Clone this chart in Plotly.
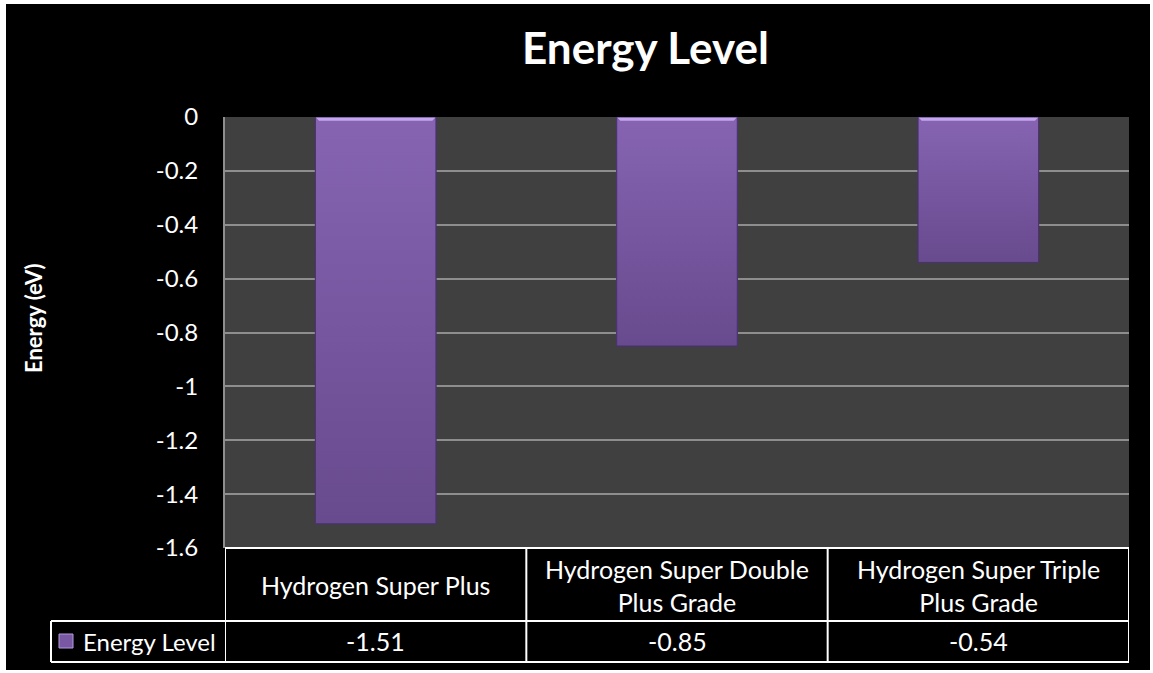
import textwrap
import plotly.graph_objects as go

# Chart data
categories = ["Hydrogen Super Plus", "Hydrogen Super Double Plus Grade", "Hydrogen Super Triple Plus Grade"]
energy_ev = [-1.51, -0.85, -0.54]
series_name = "Energy Level"
y_ticks = [0, -0.2, -0.4, -0.6, -0.8, -1, -1.2, -1.4, -1.6]

# Page geometry (pixels)
W, H = 1153, 673
L, R, T, B = 225, 1129, 117, 548
PW, PH = R - L, B - T

FONT = "Lato"
WHITE = "#ffffff"
BAR_WIDTH = 0.4
BAR_TOP = "#8664b2"
BAR_BOTTOM = "#684a8e"
HIGHLIGHT = "#c4a4ee"
BEVEL = 0.014  # depth of the bevelled top edge, in axis units


def px(x):
    return (x - L) / PW


def py(y):
    return (B - y) / PH


positions = list(range(len(categories)))

fig = go.Figure()
fig.add_trace(go.Bar(
    x=positions,
    y=energy_ev,
    width=BAR_WIDTH,
    name=series_name,
    marker=dict(color="#7758a0", line=dict(color="#4a3270", width=1)),
    showlegend=False,
))

# vertical shading and bevelled top edge of each bar
for pos, val in zip(positions, energy_ev):
    x0, x1 = pos - BAR_WIDTH / 2, pos + BAR_WIDTH / 2
    fig.add_trace(go.Scatter(
        x=[x0, x1, x1, x0, x0], y=[0, 0, val, val, 0],
        mode="lines", line=dict(width=0), fill="toself",
        fillgradient=dict(type="vertical", colorscale=[[0, BAR_BOTTOM], [1, BAR_TOP]], start=val, stop=0),
        hoverinfo="skip", showlegend=False,
    ))
    inset = 0.012
    fig.add_trace(go.Scatter(
        x=[x0, x1, x1 - inset, x0 + inset, x0], y=[0, 0, -BEVEL, -BEVEL, 0],
        mode="lines", line=dict(width=0), fill="toself", fillcolor=HIGHLIGHT,
        hoverinfo="skip", showlegend=False,
    ))
    fig.add_trace(go.Scatter(
        x=[x0, x1, x1, x0, x0], y=[0, 0, val, val, 0],
        mode="lines", line=dict(width=1, color="#4a3270"),
        hoverinfo="skip", showlegend=False,
    ))

shapes = [
    # black chart area inside the thin white frame
    dict(type="rect", xref="paper", yref="paper", x0=px(6), x1=px(1150), y0=py(670), y1=py(4),
         fillcolor="#000000", line=dict(width=0), layer="below"),
    # plot area
    dict(type="rect", xref="paper", yref="paper", x0=0, x1=1, y0=0, y1=1,
         fillcolor="#404040", line=dict(width=0), layer="below"),
]

line_style = dict(color=WHITE, width=2)
row_mid = py(621)
row_bot = py(662)
# data table grid
shapes.append(dict(type="line", xref="paper", yref="paper", x0=0, x1=1, y0=0, y1=0, line=line_style))
shapes.append(dict(type="line", xref="paper", yref="paper", x0=px(51), x1=1, y0=row_mid, y1=row_mid, line=line_style))
shapes.append(dict(type="line", xref="paper", yref="paper", x0=px(51), x1=1, y0=row_bot, y1=row_bot, line=line_style))
shapes.append(dict(type="line", xref="paper", yref="paper", x0=px(51), x1=px(51), y0=row_bot, y1=row_mid, line=line_style))
for i in range(len(categories) + 1):
    xb = i - 0.5
    shapes.append(dict(type="line", xref="x", yref="paper", x0=xb, x1=xb, y0=row_bot, y1=0, line=line_style))

# legend key inside the table
shapes.append(dict(type="rect", xref="paper", yref="paper", x0=px(59), x1=px(73), y0=py(648), y1=py(634),
                   fillcolor="#7858a2", line=dict(color="#b49ae0", width=1)))

annotations = [
    dict(text="<b>Energy Level</b>", xref="paper", yref="paper", x=px(645), y=py(47),
         showarrow=False, font=dict(family=FONT, size=44, color=WHITE), xanchor="center", yanchor="middle"),
    dict(text="<b>Energy (eV)</b>", xref="paper", yref="paper", x=px(33), y=py(318), textangle=-90,
         showarrow=False, font=dict(family=FONT, size=22, color=WHITE), xanchor="center", yanchor="middle"),
    dict(text=series_name, xref="paper", yref="paper", x=px(81), y=py(641),
         showarrow=False, font=dict(family=FONT, size=24, color=WHITE), xanchor="left", yanchor="middle"),
]
for pos, cat, val in zip(positions, categories, energy_ev):
    annotations.append(dict(text="<br>".join(textwrap.wrap(cat, 21)), xref="x", yref="paper", x=pos, y=py(585),
                            showarrow=False, font=dict(family=FONT, size=25, color=WHITE),
                            xanchor="center", yanchor="middle"))
    annotations.append(dict(text=f"{val:.2f}", xref="x", yref="paper", x=pos, y=py(641),
                            showarrow=False, font=dict(family=FONT, size=25, color=WHITE),
                            xanchor="center", yanchor="middle"))

fig.update_layout(
    width=W, height=H,
    margin=dict(l=L, r=W - R, t=T, b=H - B, autoexpand=False),
    paper_bgcolor=WHITE,
    plot_bgcolor="rgba(0,0,0,0)",
    shapes=shapes,
    annotations=annotations,
    xaxis=dict(range=[-0.5, len(categories) - 0.5], showticklabels=False,
               showgrid=False, zeroline=False, showline=False, fixedrange=True),
    yaxis=dict(range=[-1.6, 0], tickvals=y_ticks, ticktext=[f"{v:g}" for v in y_ticks],
               showgrid=True, gridcolor="#8e8e8e", gridwidth=2, zeroline=False,
               showline=True, linecolor="#8e8e8e", linewidth=2,
               ticks="", ticklabelstandoff=20,
               tickfont=dict(family=FONT, size=24, color=WHITE), fixedrange=True),
)

fig.write_html("out.html")
